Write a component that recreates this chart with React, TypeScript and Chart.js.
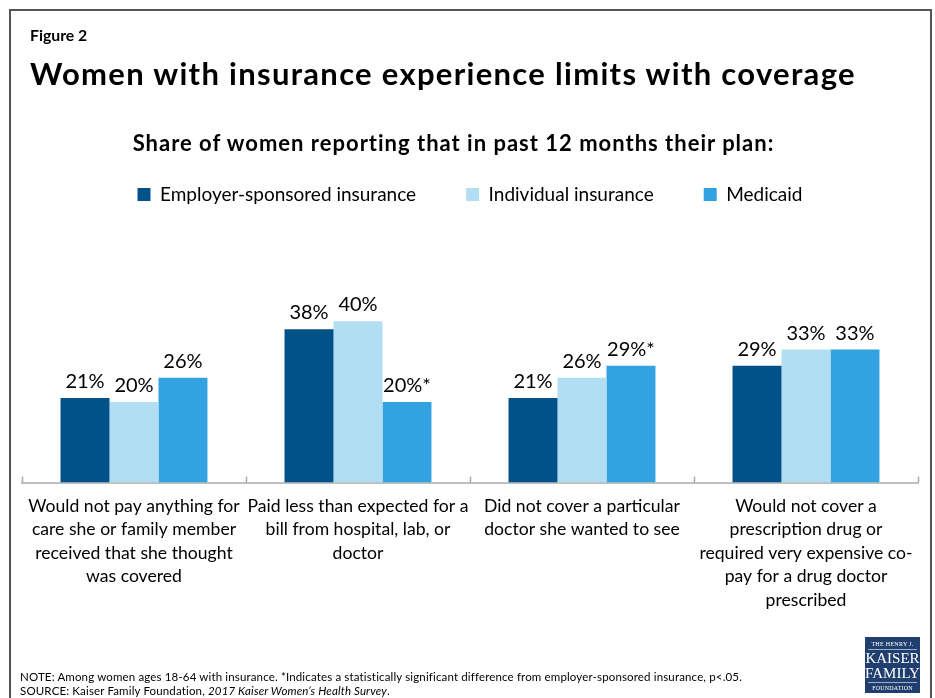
import React, { useEffect, useRef } from "react";
import { Chart, registerables } from "chart.js";

Chart.register(...registerables);

// ---- data ----
const categoryLabels: string[][] = [
  ["Would not pay anything for", "care she or family member", "received that she thought", "was covered"],
  ["Paid less than expected for a", "bill from hospital, lab, or", "doctor"],
  ["Did not cover a particular", "doctor she wanted to see"],
  ["Would not cover a", "prescription drug or", "required very expensive co-", "pay for a drug doctor", "prescribed"],
];
const seriesNames = ["Employer-sponsored insurance", "Individual insurance", "Medicaid"];
const employerValues = [21, 38, 21, 29];
const individualValues = [20, 40, 26, 33];
const medicaidValues = [26, 20, 29, 33];
const employerMarks = ["", "", "", ""];
const individualMarks = ["", "", "", ""];
const medicaidMarks = ["", "*", "*", ""];
const seriesColors = ["#02528A", "#B2DEF4", "#33A2E0"];

const titleText = "Women with insurance experience limits with coverage";
const subtitleText = "Share of women reporting that in past 12 months their plan:";
const figureText = "Figure 2";
const noteText =
  "NOTE: Among women ages 18-64 with insurance. *Indicates a statistically significant difference from employer-sponsored insurance, p<.05.";
const sourcePrefix = "SOURCE: Kaiser Family Foundation, ";
const sourceItalic = "2017 Kaiser Women\u2019s Health Survey";

const FONT = "Lato, 'Open Sans', sans-serif";

const valueLabelPlugin = {
  id: "valueLabels",
  afterDatasetsDraw(chart: any) {
    const ctx = chart.ctx;
    ctx.save();
    ctx.font = `20px ${FONT}`;
    ctx.fillStyle = "#000";
    ctx.textAlign = "center";
    ctx.textBaseline = "alphabetic";
    chart.data.datasets.forEach((ds: any, di: number) => {
      const meta = chart.getDatasetMeta(di);
      meta.data.forEach((bar: any, i: number) => {
        const txt = `${ds.data[i]}%${ds.marks[i] || ""}`;
        ctx.fillText(txt, bar.x, bar.y - 10);
      });
    });
    ctx.restore();
  },
};

const upTicksPlugin = {
  id: "upTicks",
  afterDraw(chart: any) {
    const xs = chart.scales.x;
    const bottom = chart.chartArea.bottom;
    const ctx = chart.ctx;
    const n = chart.data.labels.length;
    ctx.save();
    ctx.strokeStyle = "#A6A6A6";
    ctx.lineWidth = 1.5;
    for (let i = 0; i <= n; i++) {
      const px = Math.round(xs.getPixelForValue(i - 0.5)) + 0.5;
      ctx.beginPath();
      ctx.moveTo(px, bottom);
      ctx.lineTo(px, bottom - 6);
      ctx.stroke();
    }
    ctx.restore();
  },
};

const legendSizePlugin = {
  id: "legendSize",
  beforeInit(chart: any) {
    const legend = chart.legend;
    if (!legend) return;
    const orig = legend.fit;
    legend.fit = function () {
      orig.call(this);
      this.height = 146;
    };
  },
};

function ChartCanvas() {
  const ref = useRef<HTMLCanvasElement | null>(null);
  useEffect(() => {
    if (!ref.current) return;
    const values = [employerValues, individualValues, medicaidValues];
    const marks = [employerMarks, individualMarks, medicaidMarks];
    const chart = new Chart(ref.current, {
      type: "bar",
      data: {
        labels: categoryLabels,
        datasets: seriesNames.map((name, i) => ({
          label: name,
          data: values[i],
          marks: marks[i],
          backgroundColor: seriesColors[i],
          borderWidth: 0,
          categoryPercentage: 0.656,
          barPercentage: 1.0,
        })) as any,
      },
      options: {
        responsive: false,
        animation: false,
        devicePixelRatio: 1,
        layout: { padding: { top: 135, left: 22, right: 17, bottom: 74 } },
        plugins: {
          legend: {
            position: "top",
            labels: {
              boxWidth: 13,
              boxHeight: 13,
              padding: 50,
              color: "#000",
              font: { family: FONT, size: 19 },
            },
          },
          tooltip: { enabled: false },
        },
        scales: {
          x: {
            grid: { display: false, drawTicks: false },
            border: { display: true, color: "#BFBFBF", width: 2 },
            ticks: {
              color: "#000",
              font: { family: FONT, size: 17.6, lineHeight: 1.335 },
              padding: 12,
              maxRotation: 0,
              minRotation: 0,
              autoSkip: false,
            },
          },
          y: {
            display: false,
            min: 0,
            max: 50,
          },
        },
      },
      plugins: [valueLabelPlugin, upTicksPlugin, legendSizePlugin],
    } as any);
    return () => chart.destroy();
  }, []);
  return (
    <canvas
      ref={ref}
      width={935}
      height={698}
      style={{ position: "absolute", left: 0, top: 0, width: 935, height: 698, display: "block" }}
    />
  );
}

export default function App() {
  return (
    <div
      style={{
        position: "absolute",
        left: 0,
        top: 0,
        width: 935,
        height: 698,
        overflow: "hidden",
        background: "#fff",
        fontFamily: FONT,
        color: "#000",
      }}
    >
      <ChartCanvas />
      <div
        style={{
          position: "absolute",
          left: 9,
          top: 9,
          width: 919,
          height: 760,
          borderLeft: "2px solid #555",
          borderTop: "2px solid #555",
          borderRight: "2px solid #555",
          pointerEvents: "none",
        }}
      />
      <div style={{ position: "absolute", left: 30, top: 27, fontSize: 15.8, fontWeight: 700, lineHeight: 1, whiteSpace: "nowrap" }}>
        {figureText}
      </div>
      <div
        style={{
          position: "absolute",
          left: 30,
          top: 57.7,
          fontSize: 31,
          fontWeight: 700,
          lineHeight: 1,
          letterSpacing: 1.3,
          whiteSpace: "nowrap",
        }}
      >
        {titleText}
      </div>
      <div
        style={{
          position: "absolute",
          left: 0,
          width: 907,
          top: 132.3,
          fontSize: 22,
          fontWeight: 700,
          lineHeight: 1,
          letterSpacing: 1,
          textAlign: "center",
          whiteSpace: "nowrap",
        }}
      >
        {subtitleText}
      </div>
      <div
        style={{
          position: "absolute",
          left: 20,
          top: 669.5,
          fontSize: 11.5,
          letterSpacing: 0.15,
          lineHeight: "14px",
          whiteSpace: "nowrap",
        }}
      >
        <div>{noteText}</div>
        <div>
          {sourcePrefix}
          <i>{sourceItalic}</i>.
        </div>
      </div>
      <div
        style={{
          position: "absolute",
          left: 865,
          top: 637,
          width: 55,
          height: 56,
          background: "#213F6E",
          color: "#fff",
          fontFamily: "'Liberation Serif', 'DejaVu Serif', serif",
          textAlign: "center",
          lineHeight: 1,
        }}
      >
        <div style={{ fontSize: 6, paddingTop: 4, letterSpacing: 0.3 }}>THE HENRY J.</div>
        <div style={{ borderTop: "1px solid #9fb0cc", margin: "2px 3px 0" }} />
        <div style={{ fontSize: 15, marginTop: 1 }}>KAISER</div>
        <div style={{ fontSize: 15 }}>FAMILY</div>
        <div style={{ borderTop: "1px solid #9fb0cc", margin: "1px 3px 0" }} />
        <div style={{ fontSize: 6, marginTop: 2, letterSpacing: 0.2 }}>FOUNDATION</div>
      </div>
    </div>
  );
}
